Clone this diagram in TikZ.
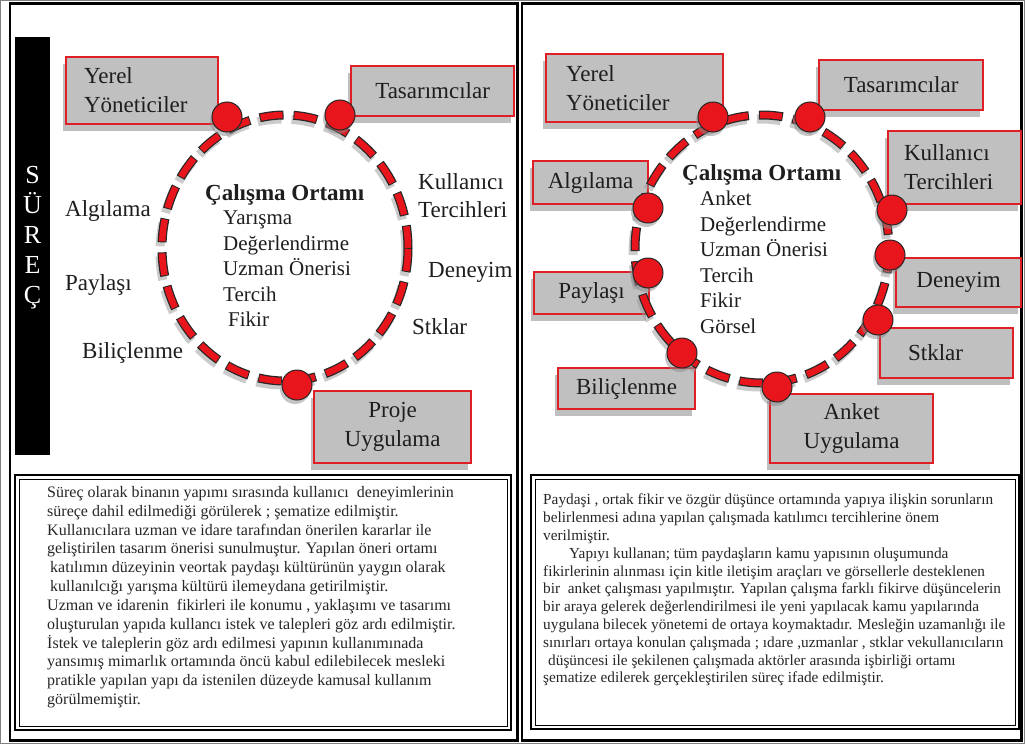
\documentclass[tikz,border=0pt]{standalone}
\usepackage{fontspec}
\setmainfont{Liberation Serif}
\usetikzlibrary{shadows}
\definecolor{boxred}{RGB}{222,32,38}
\definecolor{boxgray}{RGB}{192,192,192}
\definecolor{dotred}{RGB}{232,22,28}
\definecolor{txt}{RGB}{30,30,30}
\begin{document}
\begin{tikzpicture}[x=1pt,y=-1pt,
  box/.style={draw=boxred, line width=2.2pt, fill=boxgray, inner sep=0pt, anchor=north west,
    text=txt, font=\fontsize{23}{29}\selectfont,
    drop shadow={shadow xshift=-3pt, shadow yshift=-7pt, fill=black!45, opacity=0.55}},
  lbl/.style={font=\fontsize{23}{28}\selectfont, inner sep=0pt, anchor=west, text=txt},
  items/.style={font=\fontsize{21}{25.5}\selectfont, inner sep=0pt, anchor=west, align=left, text=txt},
  ttl/.style={font=\bfseries\fontsize{23}{28}\selectfont, inner sep=0pt, anchor=west, text=txt},
  dot/.style={circle, draw=black!85, line width=1pt, fill=dotred, minimum size=30pt, inner sep=0pt,
    drop shadow={shadow xshift=-2pt, shadow yshift=-4pt, fill=black!45, opacity=0.5}},
  para/.style={inner sep=0pt, anchor=north west, align=left, text=black!85},
  ringshadow/.style={black!40, opacity=0.5, line width=9pt, dash pattern=on 24pt off 10pt},
  ringout/.style={black!85, line width=9pt, dash pattern=on 24pt off 10pt},
  ringin/.style={dotred, line width=6.5pt, dash pattern=on 22pt off 12pt, dash phase=33pt},
  frame/.style={draw=black, line width=2.5pt},
]
\useasboundingbox (0,0) rectangle (1025,744);
\fill[white] (0,0) rectangle (1025,744);
\draw[black!50, line width=1pt] (0.5,0.5) rectangle (1024.5,743.5);
% panel frames
\draw[frame] (10,3.5) rectangle (517.5,740.5);
\draw[frame] (522,3.5) rectangle (1021.5,740.5);
% text boxes
\draw[black, line width=2.5pt] (15,475) rectangle (511,730);
\draw[black, line width=0.8pt] (19,479) rectangle (507,726);
\draw[black, line width=2.5pt] (531,475) rectangle (1019,729);
\draw[black, line width=0.8pt] (535,479) rectangle (1015,725);

% ---------------- LEFT PANEL ----------------
\fill[black] (15,37) rectangle (50,455);
\node[font=\fontsize{26}{30}\selectfont, text=white, align=center, inner sep=0pt] (surec) at (32.5,238) {S\\Ü\\R\\E\\Ç};

\node[box, minimum width=152pt, minimum height=67pt, align=left, text width=116pt, inner xsep=18pt] (lyerel) at (65,56) {Yerel\\Yöneticiler};
\node[box, minimum width=163pt, minimum height=50pt, align=center] (ltas) at (350,65) {Tasarımcılar};
\node[box, minimum width=157pt, minimum height=72pt, align=center] (lproje) at (313,390) {Proje\\Uygulama};

\draw[ringshadow] (283,252) ellipse [x radius=123, y radius=133];
\draw[ringout] (285,248) ellipse [x radius=123, y radius=133];
\draw[ringin] (285,248) ellipse [x radius=123, y radius=133];

\node[dot] (ld1) at (227,117) {};
\node[dot] (ld2) at (340,115) {};
\node[dot] (ld3) at (297,385) {};

\node[lbl] (lalg) at (65,211) {Algılama};
\node[lbl] (lpay) at (65,285) {Paylaşı};
\node[lbl] (lbil) at (82,353) {Biliçlenme};
\node[lbl, align=left] (lkul) at (418,196) {Kullanıcı\\Tercihleri};
\node[lbl] (lden) at (428,272) {Deneyim};
\node[lbl] (lstk) at (412,327) {Stklar};

\node[ttl] (lttl) at (205,195) {Çalışma Ortamı};
\node[items] (litems) at (223,269) {Yarışma\\Değerlendirme\\Uzman Önerisi\\Tercih\\\hspace*{5pt}Fikir};

\node[para, font=\fontsize{16}{18.85}\selectfont] (lpara) at (47,486) {Süreç olarak binanın yapımı sırasında kullanıcı \ deneyimlerinin\\
süreçe dahil edilmediği görülerek ; şematize edilmiştir.\\
Kullanıcılara uzman ve idare tarafından önerilen kararlar ile\\
geliştirilen tasarım önerisi sunulmuştur. Yapılan öneri ortamı\\
\hspace*{3pt}katılımın düzeyinin veortak paydaşı kültürünün yaygın olarak\\
\hspace*{3pt}kullanılcığı yarışma kültürü ilemeydana getirilmiştir.\\
Uzman ve idarenin \ fikirleri ile konumu , yaklaşımı ve tasarımı\\
oluşturulan yapıda kullancı istek ve talepleri göz ardı edilmiştir.\\
İstek ve taleplerin göz ardı edilmesi yapının kullanımınada\\
yansımış mimarlık ortamında öncü kabul edilebilecek mesleki\\
pratikle yapılan yapı da istenilen düzeyde kamusal kullanım\\
görülmemiştir.};

% ---------------- RIGHT PANEL ----------------
\node[box, minimum width=177pt, minimum height=68pt, align=left, text width=137pt, inner xsep=20pt] (ryerel) at (545,53) {Yerel\\Yöneticiler};
\node[box, minimum width=164pt, minimum height=50pt, align=center] (rtas) at (818,59) {Tasarımcılar};
\node[box, minimum width=133pt, minimum height=73pt, align=left, text width=101pt, inner xsep=16pt] (rkul) at (887,130) {Kullanıcı\\Tercihleri};
\node[box, minimum width=115pt, minimum height=43pt, align=center] (ralg) at (532,160) {Algılama};
\node[box, minimum width=115pt, minimum height=42pt, align=center] (rpay) at (533,271) {Paylaşı};
\node[box, minimum width=137pt, minimum height=41pt, align=center] (rbil) at (557,367) {Biliçlenme};
\node[box, minimum width=125pt, minimum height=49pt, align=center] (rden) at (895,257) {Deneyim};
\node[box, minimum width=133pt, minimum height=50pt, align=left, text width=77pt, inner xsep=28pt] (rstk) at (879,327) {Stklar};
\node[box, minimum width=163pt, minimum height=69pt, align=center] (rank) at (769,393) {Anket\\Uygulama};

\draw[ringshadow] (760,253) ellipse [x radius=127, y radius=134];
\draw[ringout] (762,249) ellipse [x radius=127, y radius=134];
\draw[ringin] (762,249) ellipse [x radius=127, y radius=134];

\node[dot] (rd1) at (713,117) {};
\node[dot] (rd2) at (810,117) {};
\node[dot] (rd3) at (892,210) {};
\node[dot] (rd4) at (890,255) {};
\node[dot] (rd5) at (878,320) {};
\node[dot] (rd6) at (777,387) {};
\node[dot] (rd7) at (682,353) {};
\node[dot] (rd8) at (648,273) {};
\node[dot] (rd9) at (648,208) {};

\node[ttl] (rttl) at (682,175) {Çalışma Ortamı};
\node[items] (ritems) at (700,262.5) {Anket\\Değerlendirme\\Uzman Önerisi\\Tercih\\Fikir\\Görsel};

\node[para, font=\fontsize{15.3}{17.8}\selectfont] (rpara) at (543,494) {Paydaşi , ortak fikir ve özgür düşünce ortamında yapıya ilişkin sorunların\\
belirlenmesi adına yapılan çalışmada katılımcı tercihlerine önem\\
verilmiştir.\\
\hspace*{26pt}Yapıyı kullanan; tüm paydaşların kamu yapısının oluşumunda\\
fikirlerinin alınması için kitle iletişim araçları ve görsellerle desteklenen\\
bir \ anket çalışması yapılmıştır. Yapılan çalışma farklı fikirve düşüncelerin\\
bir araya gelerek değerlendirilmesi ile yeni yapılacak kamu yapılarında\\
uygulana bilecek yönetemi de ortaya koymaktadır. Mesleğin uzamanlığı ile\\
sınırları ortaya konulan çalışmada ; ıdare ,uzmanlar , stklar vekullanıcıların\\
\hspace*{5pt}düşüncesi ile şekilenen çalışmada aktörler arasında işbirliği ortamı\\
şematize edilerek gerçekleştirilen süreç ifade edilmiştir.};
\end{tikzpicture}
\end{document}
